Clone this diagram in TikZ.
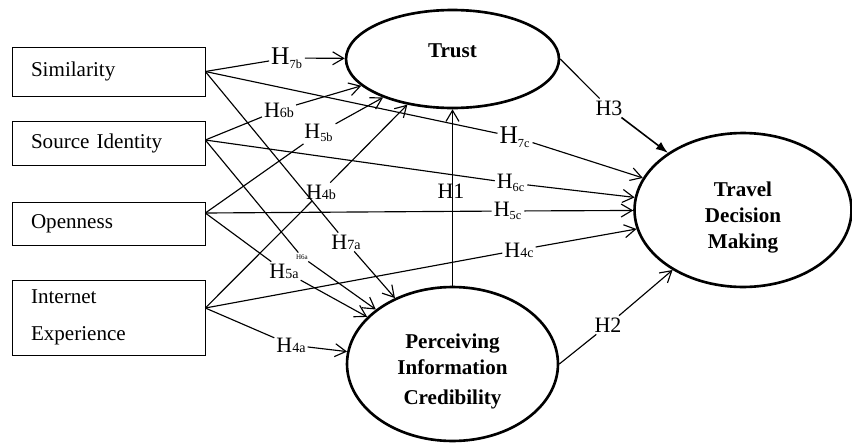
\documentclass[tikz,border=0pt]{standalone}
\usepackage{fontspec}
\setmainfont{Liberation Serif}
\usetikzlibrary{shapes.geometric, arrows.meta}

\tikzset{
    >={Straight Barb[length=2.2mm, width=2.6mm]},
    factor/.style={draw, rectangle, text width=3.1cm, align=left, inner xsep=0.38cm, font=\fontsize{12}{15}\selectfont},
    latent/.style={draw, ellipse, line width=1.5pt, inner sep=0pt, align=center, font=\fontsize{12}{15}\selectfont\bfseries},
    hyp/.style={inner sep=1pt, font=\fontsize{12.5}{14}\selectfont},
    link/.style={line width=0.65pt}
}

\begin{document}
\begin{tikzpicture}[x=0.02cm, y=-0.02cm]

    \useasboundingbox (0,0) rectangle (852,443);

    % Boxes on the left
    \node[factor, minimum height=0.98cm] (sim) at (108.5,71.5) {Similarity};
    \node[factor, minimum height=0.88cm] (srcid) at (108.5,143) {Source Identity};
    \node[factor, minimum height=0.86cm] (open) at (108.5,224) {Openness};
    \node[factor, minimum height=1.5cm] (inet) at (108.5,317.5) {Internet\\[6pt]Experience};

    \coordinate (srcido) at ([yshift=0.06cm]srcid.east);
    \coordinate (openo) at ([yshift=0.22cm]open.east);
    \coordinate (ineto) at ([yshift=0.19cm]inet.east);

    % Ellipses
    \node[latent, minimum width=4.26cm, minimum height=1.96cm] (trust) at (452.5,59) {Trust\\[-6pt]\mbox{}};
    \node[latent, minimum width=4.22cm, minimum height=3.08cm] (pic) at (452.5,364) {\rule{0pt}{17pt}Perceiving\\Information\\[2pt]Credibility};
    \node[latent, minimum width=4.34cm, minimum height=3.08cm] (tdm) at (743,210) {\rule{0pt}{17pt}Travel\\Decision\\Making};

    % Hypothesis labels
    \node[hyp, font=\fontsize{14.5}{14}\selectfont] (h7b) at (287,58) {H\textsubscript{\scriptsize 7b}};
    \node[hyp] (h6b) at (279,110) {H{\footnotesize 6b}};
    \node[hyp] (h5b) at (319,133) {H\textsubscript{\scriptsize 5b}};
    \node[hyp] (h4b) at (321,192) {H{\footnotesize 4b}};

    \node[hyp, font=\fontsize{14.5}{14}\selectfont] (h7c) at (515,137) {H\textsubscript{\scriptsize 7c}};
    \node[hyp] (h6c) at (511,183) {H\textsubscript{\scriptsize 6c}};
    \node[hyp] (h5c) at (508,211) {H\textsubscript{\scriptsize 5c}};
    \node[hyp] (h4c) at (519,250) {H{\footnotesize 4c}};

    \node[hyp] (h7a) at (346,242) {H{\footnotesize 7a}};
    \node[hyp, font=\fontsize{4}{4}\selectfont] (h6a) at (302,257) {H6a};
    \node[hyp] (h5a) at (284,271) {H{\footnotesize 5a}};
    \node[hyp] (h4a) at (291,345) {H{\footnotesize 4a}};

    \node[hyp] (h1) at (451,191) {H1};
    \node[hyp] (h2) at (608,325) {H2};
    \node[hyp] (h3) at (609,108) {H3};

    % Similarity
    \draw[link] (sim.east) -- (h7b);
    \draw[link, ->] (h7b) -- (trust);
    \draw[link] (sim.east) -- (h7c);
    \draw[link, ->] (h7c) -- (tdm);
    \draw[link] (sim.east) -- (h7a);
    \draw[link, ->] (h7a) -- (pic);

    % Source Identity
    \draw[link] (srcido) -- (h6b);
    \draw[link, ->] (h6b) -- (trust);
    \draw[link] (srcido) -- (h6c);
    \draw[link, ->] (h6c) -- (tdm);
    \draw[link] (srcido) -- (h6a);
    \draw[link, ->] (h6a) -- (pic);

    % Openness
    \draw[link] (openo) -- (h5b);
    \draw[link, ->] (h5b) -- (trust);
    \draw[link] (openo) -- (h5c);
    \draw[link, ->] (h5c) -- (tdm);
    \draw[link] (openo) -- (h5a);
    \draw[link, ->] (h5a) -- (pic);

    % Internet Experience
    \draw[link] (ineto) -- (h4b);
    \draw[link, ->] (h4b) -- (trust);
    \draw[link] (ineto) -- (h4c);
    \draw[link, ->] (h4c) -- (tdm);
    \draw[link] (ineto) -- (h4a);
    \draw[link, ->] (h4a) -- (pic);

    % Between the ellipses
    \draw[link, ->] (pic.north) -- (trust.south);
    \draw[link] (trust.east) -- (h3);
    \draw[line width=0.9pt, -{Latex[length=2.4mm]}] (h3) -- (tdm);
    \draw[link] (pic.east) -- (h2);
    \draw[link, ->] (h2) -- (tdm);

\end{tikzpicture}
\end{document}
